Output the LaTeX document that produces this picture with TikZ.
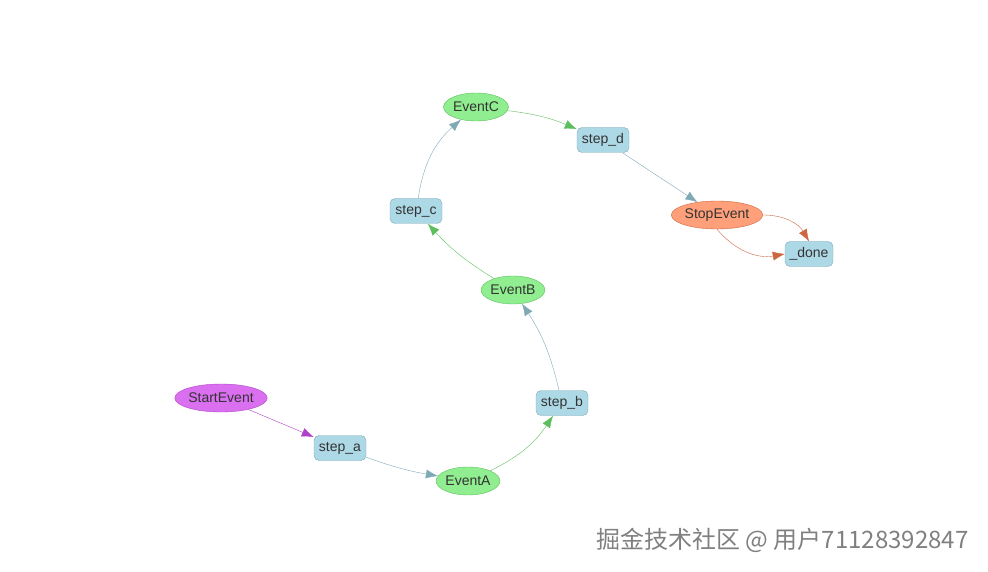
\documentclass[tikz,border=0pt]{standalone}
\usepackage{fontspec}
\setmainfont{Liberation Sans}
\newfontfamily\cjkfont{Noto Sans CJK SC}
\usetikzlibrary{arrows.meta}
\usetikzlibrary{shapes.geometric}
\definecolor{stepfill}{HTML}{ADD8E6}
\definecolor{stepline}{HTML}{7FA9B5}
\definecolor{eventfill}{HTML}{90EE90}
\definecolor{eventline}{HTML}{5DBE5D}
\definecolor{startfill}{HTML}{DA70F0}
\definecolor{startline}{HTML}{B040C8}
\definecolor{stopfill}{HTML}{FFA07A}
\definecolor{stopline}{HTML}{CC6640}
\begin{document}
\begin{tikzpicture}
[
	x = 1pt, y = -1pt,
	stepbox/.style	= {rectangle, rounded corners = 5pt, draw = stepline, fill = stepfill, minimum width = 52pt, minimum height = 25pt, inner sep = 2pt, text = black!80, font = \fontsize{14}{16}\selectfont},
	event/.style	= {ellipse, draw = eventline, fill = eventfill, minimum width = 60pt, minimum height = 28pt, inner sep = 0pt, text = black!80, font = \fontsize{14}{16}\selectfont},
	start/.style	= {event, draw = startline, fill = startfill, minimum width = 80pt},
	stop/.style	= {event, draw = stopline, fill = stopfill, minimum width = 80pt},
	fromstep/.style	= {-{Latex[length = 12pt, width = 9pt]}, draw = stepline},
	fromevent/.style	= {-{Latex[length = 12pt, width = 9pt]}, draw = eventline},
	fromstart/.style	= {-{Latex[length = 12pt, width = 9pt]}, draw = startline},
	fromstop/.style	= {-{Latex[length = 12pt, width = 9pt]}, draw = stopline},
]
	\useasboundingbox (0,0) rectangle (988,572);

	\node (start) [start] at (221,398) {StartEvent};
	\node (stepa) [stepbox] at (340,448) {step\_a};
	\node (evA) [event] at (468,481) {EventA};
	\node (stepb) [stepbox] at (562,403) {step\_b};
	\node (evB) [event] at (513,290) {EventB};
	\node (stepc) [stepbox] at (416,211) {step\_c};
	\node (evC) [event] at (476,107) {EventC};
	\node (stepd) [stepbox] at (603,140) {step\_d};
	\node (stop) [stop] at (717,215) {StopEvent};
	\node (done) [stepbox, minimum width = 48pt] at (809,254) {\_done};

	\draw [fromstart] (start) -- (stepa);
	\draw [fromstep] (stepa) to [bend right = 5] (evA);
	\draw [fromevent] (evA) to [bend right = 15] (stepb);
	\draw [fromstep] (stepb) to [bend right = 10] (evB);
	\draw [fromevent] (evB) to [bend left = 8] (stepc);
	\draw [fromstep] (stepc) to [bend left = 20] (evC);
	\draw [fromevent] (evC) to [bend left = 8] (stepd);
	\draw [fromstep] (stepd) -- (stop);
	\draw [fromstop] (stop.east) to [bend left = 30] (done.north);
	\draw [fromstop] (stop.south) to [bend right = 30] (done.west);

	\node (mark) [anchor = east, text = black!50, font = \fontsize{24}{28}\selectfont] at (972,540) {\cjkfont 掘金技术社区 @ 用户71128392847};
\end{tikzpicture}
\end{document}
